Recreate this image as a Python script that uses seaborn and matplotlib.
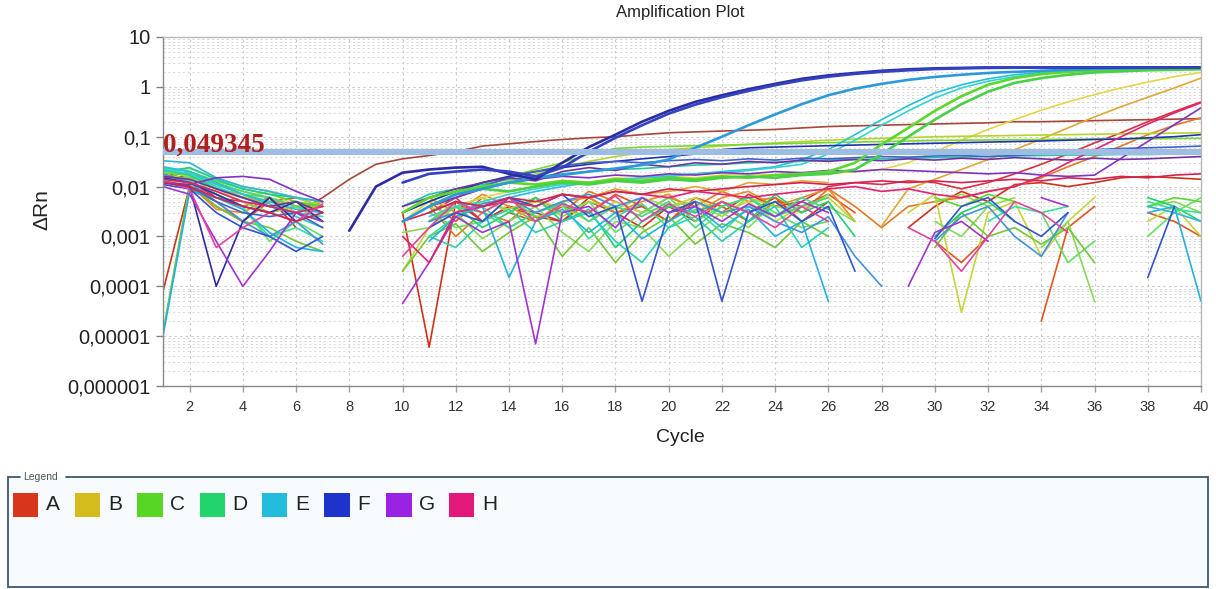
import numpy as np
import pandas as pd
import matplotlib
matplotlib.use("Agg")
import matplotlib.pyplot as plt
import seaborn as sns
from matplotlib.patches import Rectangle
from matplotlib.lines import Line2D

_ = float("nan")

# ---------------- data ----------------
cycles = list(range(1, 41))
threshold = 0.049345
threshold_label = "0,049345"
title = "Amplification Plot"
x_label = "Cycle"
y_label = "\u0394Rn"
x_ticks = list(range(2, 41, 2))
y_ticks = [1e-6, 1e-5, 1e-4, 1e-3, 1e-2, 1e-1, 1, 10]
y_tick_labels = ["0,000001", "0,00001", "0,0001", "0,001", "0,01", "0,1", "1", "10"]
legend_rows = ["A", "B", "C", "D", "E", "F", "G", "H"]

A1 = [0.012, 0.018, 0.009, 0.006, 0.004, 0.003, 0.006, 0.014, 0.028, 0.036,
      0.042, 0.05, 0.065, 0.072, 0.08, 0.088, 0.095, 0.1, 0.11, 0.12,
      0.125, 0.13, 0.135, 0.14, 0.15, 0.16, 0.165, 0.17, 0.175, 0.18,
      0.185, 0.19, 0.2, 0.2, 0.205, 0.21, 0.215, 0.22, 0.225, 0.23]
A2 = [0.00008, 0.01, 0.004, 0.002, 0.006, 0.0015, _, _, _, 0.003,
      0.000006, 0.005, 0.002, 0.004, 0.0025, 0.002, 0.006, 0.003, 0.0015, 0.004,
      0.002, 0.005, 0.003, 0.006, 0.002, 0.005, _, _, 0.0015, 0.004,
      0.008, 0.005, 0.011, 0.012, 0.01, 0.012, 0.015, 0.016, 0.015, 0.014]
A3 = [0.015, 0.01, 0.007, 0.004, 0.006, 0.003, 0.005, _, _, 0.002,
      0.004, 0.001, 0.003, 0.002, 0.006, 0.003, 0.008, 0.005, 0.003, 0.006,
      0.004, 0.008, 0.005, 0.006, 0.003, 0.009, 0.004, 0.0015, 0.004, 0.005,
      0.006, 0.008, 0.01, 0.015, 0.025, 0.04, 0.065, 0.11, 0.17, 0.24]
A4 = [0.02, 0.013, 0.006, 0.005, 0.003, 0.004, 0.002, _, _, _,
      0.003, 0.006, 0.002, 0.004, 0.003, 0.002, 0.005, 0.003, 0.004, 0.002,
      0.005, 0.003, 0.007, 0.004, 0.005, 0.01, 0.012, 0.011, 0.013, 0.012,
      0.009, 0.012, 0.018, 0.028, 0.045, 0.075, 0.12, 0.2, 0.32, 0.5]
A5 = [0.016, 0.009, 0.005, 0.002, 0.005, 0.006, 0.004, _, _, _,
      0.005, 0.002, 0.006, 0.003, 0.002, 0.004, 0.003, 0.007, 0.004, 0.002,
      0.006, 0.004, 0.002, 0.005, 0.004, 0.007, 0.003, _, _, 0.0008,
      0.0003, 0.001, _, 0.00002, 0.0015, 0.004, _, 0.003, 0.002, 0.001]
A6 = [0.017, 0.011, 0.0035, 0.003, 0.006, 0.003, 0.004, _, _, _,
      0.006, 0.003, 0.007, 0.004, 0.002, 0.005, 0.006, 0.003, 0.005, 0.007,
      0.003, 0.006, 0.008, 0.004, 0.006, 0.009, 0.002, _, _, _,
      _, _, _, _, _, _, _, _, _, _]
B1 = [0.014, 0.011, 0.008, 0.006, 0.005, 0.003, 0.004, _, _, 0.002,
      0.005, 0.004, 0.006, 0.008, 0.01, 0.013, 0.012, 0.015, 0.014, 0.016,
      0.015, 0.017, 0.018, 0.017, 0.019, 0.018, 0.02, 0.022, 0.03, 0.05,
      0.085, 0.14, 0.22, 0.34, 0.5, 0.7, 0.95, 1.25, 1.6, 1.95]
B2 = [0.012, 0.015, 0.009, 0.007, 0.004, 0.005, 0.003, _, _, _,
      0.002, 0.005, 0.003, 0.006, 0.004, 0.007, 0.006, 0.009, 0.007, 0.008,
      0.01, 0.008, 0.012, 0.011, 0.013, 0.012, _, 0.0016, 0.009, 0.014,
      0.022, 0.035, 0.055, 0.09, 0.15, 0.25, 0.4, 0.62, 0.95, 1.5]
B3 = [0.018, 0.014, 0.01, 0.006, 0.008, 0.004, 0.005, _, _, 0.0002,
      0.0015, 0.004, 0.006, 0.003, 0.005, 0.004, 0.002, 0.005, 0.003, 0.004,
      0.006, 0.003, 0.005, 0.002, 0.004, 0.006, 0.002, _, 0.003, 0.007,
      0.00003, 0.003, 0.005, 0.0004, 0.002, 0.006, _, 0.002, 0.004, 0.001]
B4 = [0.02, 0.016, 0.011, 0.008, 0.006, 0.004, 0.005, _, _, 0.002,
      0.004, 0.006, 0.009, 0.013, 0.018, 0.025, 0.032, 0.04, 0.048, 0.055,
      0.06, 0.065, 0.07, 0.075, 0.08, 0.085, 0.09, 0.093, 0.096, 0.1,
      0.102, 0.104, 0.106, 0.108, 0.11, 0.112, 0.114, 0.116, 0.118, 0.12]
C1 = [_, _, _, _, _, _, _, _, _, 0.003,
      0.006, 0.008, 0.01, 0.012, 0.011, 0.013, 0.012, 0.014, 0.013, 0.015,
      0.014, 0.016, 0.015, 0.017, 0.018, 0.02, 0.03, 0.07, 0.15, 0.33,
      0.65, 1.1, 1.5, 1.8, 2.0, 2.15, 2.25, 2.3, 2.35, 2.4]
C2 = [_, _, _, _, _, _, _, _, _, _,
      0.004, 0.007, 0.009, 0.008, 0.01, 0.012, 0.011, 0.013, 0.012, 0.014,
      0.013, 0.015, 0.016, 0.015, 0.017, 0.018, 0.022, 0.045, 0.1, 0.22,
      0.45, 0.8, 1.2, 1.5, 1.75, 1.95, 2.05, 2.15, 2.2, 2.25]
C3 = [0.019, 0.018, 0.012, 0.007, 0.006, 0.004, 0.004, _, _, 0.003,
      0.005, 0.008, 0.012, 0.016, 0.022, 0.03, 0.045, 0.058, 0.062, 0.064,
      0.066, 0.068, 0.07, 0.072, 0.074, 0.076, 0.078, 0.08, 0.082, 0.084,
      0.085, 0.086, 0.087, 0.088, 0.089, 0.09, 0.09, 0.091, 0.092, 0.093]
C4 = [0.016, 0.012, 0.008, 0.005, 0.003, 0.004, 0.002, _, _, 0.0012,
      0.0015, 0.003, 0.0009, 0.002, 0.004, 0.0012, 0.0005, 0.002, 0.0015, 0.0004,
      0.0012, 0.003, 0.0015, 0.005, 0.002, 0.004, 0.002, _, _, 0.002,
      0.001, 0.004, _, 0.0006, 0.002, 0.00005, _, 0.004, 0.005, 0.003]
C5 = [0.013, 0.016, 0.007, 0.004, 0.0008, 0.002, 0.001, _, _, _,
      0.003, 0.0015, 0.002, 0.006, 0.0025, 0.003, 0.005, 0.0012, 0.003, 0.006,
      0.002, 0.004, 0.006, 0.003, 0.0015, 0.002, _, _, _, _,
      _, _, _, 0.003, 0.0003, 0.0008, _, 0.001, 0.003, 0.006]
C6 = [0.019, 0.023, 0.015, 0.01, 0.008, 0.006, 0.004, _, _, _,
      0.004, 0.0025, 0.005, 0.0035, 0.006, 0.0025, 0.005, 0.0035, 0.006, 0.004,
      0.005, 0.0025, 0.006, 0.004, 0.003, 0.007, _, _, _, 0.005,
      0.007, 0.004, 0.006, _, _, _, _, _, _, _]
C7 = [0.000012, 0.011, 0.004, 0.002, 0.0015, 0.0008, 0.0005, _, _, 0.0002,
      0.001, 0.0018, 0.0005, 0.0012, 0.0025, 0.0004, 0.0015, 0.0003, 0.0012, 0.0025,
      0.0007, 0.0018, 0.0012, 0.0006, 0.002, 0.001, _, _, _, 0.0006,
      0.003, 0.001, 0.0015, 0.0007, 0.0015, 0.0003, _, _, _, _]
C8 = [0.015, 0.02, 0.013, 0.009, 0.007, 0.005, 0.004, _, _, _,
      _, _, _, _, _, _, _, _, _, _,
      _, _, _, _, _, _, _, _, _, 0.006,
      0.004, 0.007, 0.005, _, _, _, _, 0.004, 0.006, 0.005]
D1 = [0.022, 0.017, 0.009, 0.006, 0.004, 0.003, 0.002, _, _, _,
      0.002, 0.004, 0.0015, 0.003, 0.006, 0.002, 0.0035, 0.0006, 0.002, 0.004,
      0.003, 0.005, 0.002, 0.007, 0.003, 0.005, 0.001, _, _, 0.001,
      0.003, 0.005, 0.002, _, _, _, _, 0.006, 0.004, 0.002]
D2 = [0.017, 0.013, 0.007, 0.0035, 0.001, 0.0015, 0.0008, _, _, _,
      0.001, 0.0025, 0.004, 0.0015, 0.003, 0.0045, 0.0009, 0.0025, 0.0045, 0.0015,
      0.0035, 0.0012, 0.004, 0.0025, 0.006, 0.0035, _, _, _, _,
      _, 0.002, 0.004, 0.003, 0.004, _, _, 0.005, 0.0035, 0.003]
D3 = [0.02, 0.024, 0.014, 0.009, 0.007, 0.006, 0.005, _, _, 0.004,
      0.007, 0.009, 0.011, 0.014, 0.016, 0.018, 0.02, 0.022, 0.023, 0.025,
      0.027, 0.028, 0.03, 0.031, 0.032, 0.034, 0.035, 0.036, 0.037, 0.038,
      0.039, 0.04, 0.041, 0.042, 0.043, 0.043, 0.044, 0.044, 0.045, 0.045]
D4 = [0.024, 0.02, 0.012, 0.008, 0.006, 0.004, 0.003, _, _, _,
      0.002, 0.004, 0.003, 0.0015, 0.003, 0.005, 0.002, 0.004, 0.0025, 0.005,
      0.0015, 0.004, 0.006, 0.0025, 0.004, 0.006, _, _, _, _,
      _, _, _, _, _, _, _, _, _, _]
D5 = [0.021, 0.018, 0.011, 0.007, 0.0045, 0.0025, 0.0015, _, _, _,
      0.001, 0.0006, 0.002, 0.0035, 0.0012, 0.002, 0.003, 0.0008, 0.0003, 0.0015,
      0.0025, 0.0008, 0.002, 0.004, 0.0006, 0.0015, _, _, _, _,
      _, _, _, _, _, _, _, _, _, _]
E1 = [_, _, _, _, _, _, _, _, _, 0.002,
      0.004, 0.007, 0.009, 0.012, 0.015, 0.017, 0.02, 0.023, 0.027, 0.035,
      0.06, 0.1, 0.17, 0.28, 0.45, 0.68, 0.92, 1.15, 1.38, 1.58,
      1.75, 1.9, 2.0, 2.1, 2.2, 2.3, 2.35, 2.4, 2.42, 2.45]
E2 = [0.025, 0.02, 0.012, 0.007, 0.005, 0.0035, 0.003, _, _, _,
      0.003, 0.005, 0.004, 0.006, 0.008, 0.01, 0.012, 0.013, 0.015, 0.016,
      0.018, 0.02, 0.022, 0.025, 0.035, 0.055, 0.11, 0.22, 0.42, 0.75,
      1.1, 1.45, 1.75, 1.95, 2.1, 2.2, 2.3, 2.35, 2.38, 2.4]
E3 = [0.023, 0.018, 0.01, 0.006, 0.004, 0.003, 0.0025, _, _, _,
      0.0025, 0.004, 0.005, 0.007, 0.009, 0.011, 0.012, 0.014, 0.015, 0.017,
      0.018, 0.019, 0.021, 0.024, 0.028, 0.045, 0.085, 0.17, 0.33, 0.6,
      0.95, 1.3, 1.6, 1.85, 2.0, 2.15, 2.25, 2.3, 2.35, 2.38]
E4 = [0.00001, 0.008, 0.006, 0.0035, 0.0012, 0.0006, 0.0005, _, _, _,
      0.0008, 0.0025, 0.004, 0.00015, 0.002, 0.0035, 0.0012, 0.003, 0.0009, 0.002,
      0.004, 0.0015, 0.0035, 0.001, 0.002, 0.00005, _, 0.0001, _, _,
      _, _, _, _, _, _, _, 0.003, 0.004, 0.00005]
E5 = [0.018, 0.012, 0.005, 0.002, 0.001, 0.002, 0.0007, _, _, _,
      0.002, 0.003, 0.0045, 0.006, 0.003, 0.005, 0.007, 0.004, 0.006, 0.003,
      0.005, 0.003, 0.004, 0.002, 0.0012, 0.0025, 0.0004, 0.0001, _, 0.0008,
      0.0025, 0.004, 0.001, 0.0004, 0.003, _, _, _, _, _]
E6 = [0.033, 0.03, 0.015, 0.01, 0.008, 0.006, 0.005, _, _, _,
      _, _, _, _, _, _, _, _, _, _,
      _, _, _, _, _, _, _, _, _, _,
      _, _, _, _, _, _, _, 0.004, 0.003, 0.002]
F1 = [_, _, _, _, _, _, _, 0.0013, 0.01, 0.019,
      0.022, 0.024, 0.025, 0.018, 0.014, 0.03, 0.062, 0.11, 0.2, 0.33,
      0.5, 0.68, 0.9, 1.15, 1.45, 1.7, 1.9, 2.1, 2.25, 2.35,
      2.4, 2.45, 2.45, 2.45, 2.45, 2.45, 2.45, 2.45, 2.45, 2.45]
F2 = [_, _, _, _, _, _, _, _, _, 0.012,
      0.018, 0.02, 0.022, 0.02, 0.016, 0.024, 0.05, 0.095, 0.17, 0.29,
      0.44, 0.62, 0.83, 1.08, 1.35, 1.6, 1.82, 2.0, 2.15, 2.28,
      2.35, 2.4, 2.42, 2.44, 2.45, 2.45, 2.45, 2.45, 2.45, 2.45]
F3 = [0.015, 0.012, 0.007, 0.004, 0.003, 0.005, 0.002, _, _, 0.003,
      0.005, 0.008, 0.012, 0.016, 0.02, 0.024, 0.028, 0.032, 0.036, 0.04,
      0.045, 0.055, 0.06, 0.062, 0.064, 0.066, 0.068, 0.07, 0.072, 0.074,
      0.076, 0.078, 0.08, 0.082, 0.085, 0.088, 0.09, 0.095, 0.1, 0.11]
F4 = [0.011, 0.009, 0.003, 0.0015, 0.001, 0.0005, 0.001, _, _, _,
      0.0015, 0.003, 0.002, 0.006, 0.004, 0.007, 0.0025, 0.004, 0.00005, 0.003,
      0.005, 0.00005, 0.003, 0.005, 0.002, 0.004, 0.0002, _, _, 0.0009,
      0.004, 0.006, 0.002, 0.001, 0.003, _, _, 0.00015, 0.004, _]
F5 = [0.013, 0.01, 0.005, 0.003, 0.0025, 0.003, 0.0015, _, _, _,
      0.004, 0.006, 0.01, 0.015, 0.02, 0.026, 0.03, 0.032, 0.03, 0.033,
      0.035, 0.033, 0.036, 0.034, 0.037, 0.036, 0.038, 0.04, 0.039, 0.041,
      0.042, 0.04, 0.042, 0.045, 0.05, 0.055, 0.058, 0.06, 0.062, 0.065]
F6 = [0.012, 0.01, 0.0001, 0.002, 0.006, 0.002, _, _, _, _,
      _, _, _, _, _, _, _, _, _, _,
      _, _, _, _, _, _, _, _, _, _,
      _, _, _, _, _, _, _, _, _, _]
G1 = [0.012, 0.011, 0.015, 0.016, 0.014, 0.008, 0.005, _, _, _,
      0.004, 0.006, 0.009, 0.012, 0.014, 0.016, 0.015, 0.017, 0.016, 0.018,
      0.017, 0.019, 0.018, 0.02, 0.019, 0.021, 0.02, 0.022, 0.021, 0.02,
      0.019, 0.018, 0.019, 0.017, 0.016, 0.017, 0.037, 0.08, 0.175, 0.38]
G2 = [0.01, 0.007, 0.0008, 0.0001, 0.0005, 0.003, 0.002, _, _, 0.000045,
      0.0003, 0.0025, 0.0012, 0.002, 0.000007, 0.003, 0.004, 0.0015, 0.006, 0.003,
      0.004, 0.002, 0.0045, 0.0025, 0.005, 0.003, _, _, 0.0001, 0.0012,
      0.002, 0.0008, _, 0.006, 0.004, _, _, _, _, _]
G3 = [0.016, 0.014, 0.009, 0.006, 0.004, 0.005, 0.003, _, _, 0.004,
      0.006, 0.009, 0.012, 0.015, 0.013, 0.02, 0.024, 0.021, 0.028, 0.025,
      0.03, 0.028, 0.032, 0.03, 0.034, 0.032, 0.035, 0.033, 0.036, 0.034,
      0.037, 0.035, 0.038, 0.036, 0.034, 0.037, 0.035, 0.036, 0.038, 0.04]
H1 = [0.014, 0.012, 0.008, 0.005, 0.004, 0.003, 0.004, _, _, 0.001,
      0.0003, 0.003, 0.004, 0.005, 0.004, 0.007, 0.006, 0.008, 0.007, 0.006,
      0.008, 0.007, 0.006, 0.007, 0.008, 0.009, 0.01, 0.008, 0.009, 0.007,
      0.006, 0.008, 0.01, 0.016, 0.03, 0.055, 0.1, 0.18, 0.3, 0.48]
H2 = [0.013, 0.009, 0.0006, 0.0015, 0.003, 0.002, 0.0045, _, _, 0.0004,
      0.0015, 0.005, 0.003, 0.006, 0.002, 0.0045, 0.003, 0.0065, 0.002, 0.0045,
      0.0025, 0.005, 0.003, 0.0015, 0.004, 0.002, _, _, 0.0015, 0.0008,
      0.0002, 0.001, 0.005, 0.003, 0.0012, _, _, _, _, _]
H3 = [0.012, 0.01, 0.006, 0.004, 0.003, 0.002, 0.003, _, _, 0.002,
      0.003, 0.005, 0.004, 0.006, 0.005, 0.007, 0.006, 0.008, 0.007, 0.009,
      0.008, 0.009, 0.01, 0.011, 0.012, 0.011, 0.012, 0.013, 0.012, 0.013,
      0.012, 0.013, 0.014, 0.013, 0.015, 0.014, 0.016, 0.015, 0.017, 0.018]

wells = {
    "A1": A1, "A2": A2, "A3": A3, "A4": A4, "A5": A5, "A6": A6,
    "B1": B1, "B2": B2, "B3": B3, "B4": B4,
    "C1": C1, "C2": C2, "C3": C3, "C4": C4, "C5": C5, "C6": C6, "C7": C7, "C8": C8,
    "D1": D1, "D2": D2, "D3": D3, "D4": D4, "D5": D5,
    "E1": E1, "E2": E2, "E3": E3, "E4": E4, "E5": E5, "E6": E6,
    "F1": F1, "F2": F2, "F3": F3, "F4": F4, "F5": F5, "F6": F6,
    "G1": G1, "G2": G2, "G3": G3,
    "H1": H1, "H2": H2, "H3": H3,
}

# ---------------- styles ----------------
well_colors = {
    "A1": "#a8463a", "A2": "#d0301c", "A3": "#e07a28", "A4": "#d83040",
    "A5": "#e0561c", "A6": "#e88c22",
    "B1": "#e6d44a", "B2": "#e2a636", "B3": "#c8d43a", "B4": "#b4d62c",
    "C1": "#5cd82c", "C2": "#48d046", "C3": "#7ad832", "C4": "#86da56",
    "C5": "#62e064", "C6": "#96e044", "C7": "#72c836", "C8": "#5cd82c",
    "D1": "#22d072", "D2": "#36e094", "D3": "#22c8a4", "D4": "#44d884",
    "D5": "#2ad0b4",
    "E1": "#2c9ada", "E2": "#22c2da", "E3": "#36d2d2", "E4": "#22b2e2",
    "E5": "#4292e2", "E6": "#2cb6da",
    "F1": "#2c2ca2", "F2": "#3242c2", "F3": "#2232b2", "F4": "#3252d2",
    "F5": "#4262ca", "F6": "#2c2ca2",
    "G1": "#8232c2", "G2": "#a232d2", "G3": "#7232a2",
    "H1": "#e22272", "H2": "#e242a2", "H3": "#d22252",
}
thick_wells = {"F1", "F2", "E1", "C1", "C2"}
legend_colors = ["#d8361a", "#d4bc1c", "#58d624", "#22d46c",
                 "#22bcdc", "#1e32cc", "#9a22e2", "#e2187a"]

# ---------------- long-form table, split at gaps ----------------
records = []
for name, vals in wells.items():
    seg = 0
    gap = True
    for c, v in zip(cycles, vals):
        if v is None or np.isnan(v):
            gap = True
            continue
        if gap:
            seg += 1
            gap = False
        records.append((name, f"{name}_{seg}", c, v, name in thick_wells))
df = pd.DataFrame(records, columns=["well", "unit", "cycle", "drn", "thick"])

# ---------------- figure ----------------
sns.set_style("white")
plt.rcParams["font.family"] = ["Liberation Sans", "DejaVu Sans"]

W, H = 1216, 589
fig = plt.figure(figsize=(W / 100, H / 100), dpi=100)
ax = fig.add_axes([163 / W, 1 - 386 / H, (1201 - 163) / W, (386 - 37) / H])
ax.set_yscale("log")
ax.set_xlim(1, 40)
ax.set_ylim(1e-6, 10)

ax.set_yticks(y_ticks)
ax.set_yticks([m * 10.0 ** e for e in range(-6, 1) for m in range(2, 10)], minor=True)
ax.set_xticks(x_ticks)
ax.grid(True, which="major", axis="both", color="#c8c8c8", linestyle=(0, (2, 3)), linewidth=0.8)
ax.grid(True, which="minor", axis="y", color="#d6d6d6", linestyle=(0, (2, 3)), linewidth=0.7)
ax.set_axisbelow(True)

sns.lineplot(data=df[~df["thick"]], x="cycle", y="drn", hue="well", units="unit",
             estimator=None, palette=well_colors, linewidth=1.2, legend=False, ax=ax)
sns.lineplot(data=df[df["thick"]], x="cycle", y="drn", hue="well", units="unit",
             estimator=None, palette=well_colors, linewidth=1.9, legend=False, ax=ax)

# threshold
ax.axhline(threshold, color="#9dbde2", linewidth=4.4, zorder=5)
ax.text(1.0, threshold * 1.02, threshold_label, transform=ax.transData,
        ha="left", va="baseline", fontsize=19.5, fontweight="bold",
        family=["Liberation Serif", "DejaVu Serif"], color="#b01e1e", zorder=6)

ax.set_yticklabels(y_tick_labels)
ax.set_xticklabels([str(t) for t in x_ticks])
ax.tick_params(axis="y", which="major", labelsize=14.5, length=5, width=1, color="#808080",
               labelcolor="#222222", pad=4, left=True)
ax.tick_params(axis="y", which="minor", length=0)
ax.tick_params(axis="x", which="major", labelsize=10.5, length=4, width=1, color="#a0a0a0",
               labelcolor="#333333", pad=6, bottom=True)

for side in ["left", "bottom"]:
    ax.spines[side].set_color("#8a8a8a")
    ax.spines[side].set_linewidth(1.0)
for side in ["top", "right"]:
    ax.spines[side].set_color("#b8b8b8")
    ax.spines[side].set_linewidth(1.0)

ax.set_xlabel("")
ax.set_ylabel("")
fig.text(680 / W, 1 - 12 / H, title, ha="center", va="center", fontsize=12, color="#222222")
fig.text(680 / W, 1 - 438 / H, x_label, ha="center", va="center", fontsize=14, color="#222222")
fig.text(42 / W, 1 - 210 / H, y_label, ha="center", va="center", fontsize=15,
         rotation=90, color="#222222")

# ---------------- legend panel ----------------
box_top, box_bot, box_l, box_r = 477, 587, 8, 1208
fig.patches.append(Rectangle((box_l / W, 1 - box_bot / H), (box_r - box_l) / W,
                             (box_bot - box_top) / H, transform=fig.transFigure,
                             facecolor="#f7fbfd", edgecolor="none", zorder=0))
edge = "#3d5872"
def fline(xs, ys, lw=1.3):
    fig.lines.append(Line2D([x / W for x in xs], [1 - y / H for y in ys],
                            transform=fig.transFigure, color=edge, linewidth=lw))
fline([box_l, box_l], [box_top, box_bot])
fline([box_r, box_r], [box_top, box_bot])
fline([box_l, box_r], [box_bot, box_bot])
fline([box_l, 20], [box_top, box_top])
fline([66, box_r], [box_top, box_top])
fig.text(23 / W, 1 - box_top / H, "Legend", ha="left", va="center", fontsize=7.5,
         color="#555555")

for i, (lab, col) in enumerate(zip(legend_rows, legend_colors)):
    x0 = 12.7 + 62.3 * i
    fig.patches.append(Rectangle((x0 / W, 1 - 517 / H), 25.5 / W, 24 / H,
                                 transform=fig.transFigure, facecolor=col,
                                 edgecolor="none"))
    fig.text((x0 + 33) / W, 1 - 505 / H, lab, ha="left", va="center", fontsize=15,
             color="#222222")

fig.savefig("out.png", dpi=100, facecolor="white")
